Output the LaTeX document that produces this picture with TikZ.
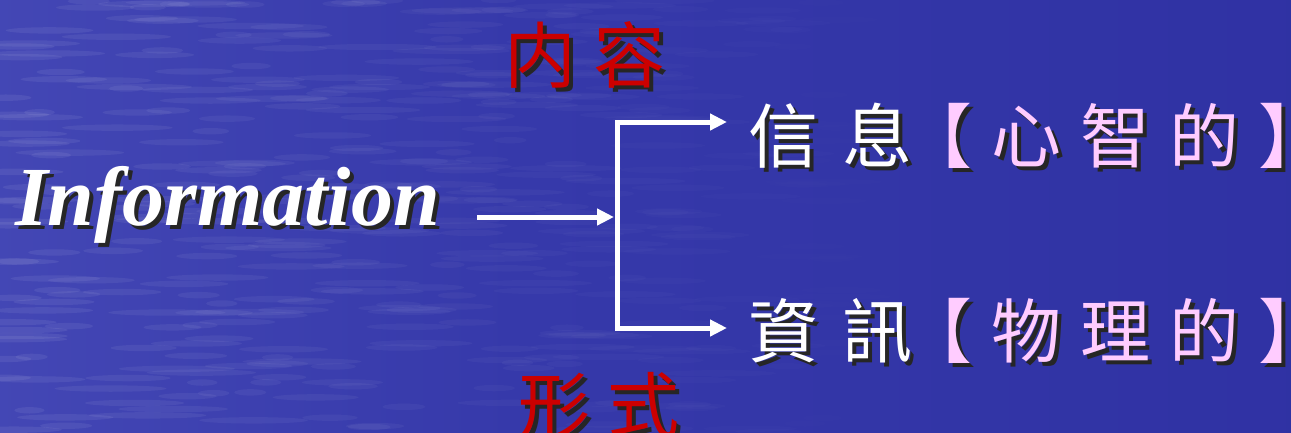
\documentclass[tikz,border=0pt]{standalone}
\usepackage{fontspec}
\setmainfont{Liberation Serif}
\newfontfamily\cjk{Noto Sans CJK TC}
\usetikzlibrary{arrows.meta}
\definecolor{bgL}{RGB}{84,88,194}
\definecolor{bgM}{RGB}{54,57,170}
\definecolor{bgR}{RGB}{42,44,158}
\definecolor{redtxt}{RGB}{204,0,0}
\definecolor{pinktxt}{RGB}{255,204,255}
\pgfdeclarehorizontalshading{bgshade}{100bp}{color(0bp)=(bgL); color(45bp)=(bgM); color(100bp)=(bgR)}
% text with a dark drop shadow
\newcommand{\shtxt}[2]{\makebox[0pt][l]{\hspace*{4pt}\raisebox{-4pt}{\color{black!85}#2}}{\color{#1}#2}}
\newcommand{\cba}[1]{\makebox[94pt]{#1}}
\newcommand{\cbb}[1]{\makebox[89pt]{#1}}
\newcommand{\cbe}[1]{\makebox[40pt][l]{\hspace*{9.5pt}#1}}
\begin{document}
\begin{tikzpicture}[x=1pt,y=-1pt,
  conn/.style={draw=white,line width=5pt,-{Triangle[length=17pt,width=16pt]}},
  latin/.style={inner sep=0pt,anchor=base west,font=\fontsize{84}{90}\selectfont\bfseries\itshape},
  cjkbig/.style={inner sep=0pt,anchor=base west,font=\cjk\fontsize{70}{80}\selectfont},
  cjkred/.style={inner sep=0pt,anchor=base west,font=\cjk\fontsize{72}{80}\selectfont}]
\useasboundingbox (0,0) rectangle (1291,432);
\clip (0,0) rectangle (1291,432);
\shade[shading=bgshade] (0,0) rectangle (1291,432);
\pgfmathsetseed{11}
\foreach \i in {1,...,420}{
  \pgfmathsetmacro\xx{rnd*900}
  \pgfmathsetmacro\yy{rnd*432}
  \pgfmathsetmacro\ww{15+rnd*45}
  \pgfmathsetmacro\oo{0.07*(1-\xx/920)}
  \fill[white,fill opacity=\oo] (\xx,\yy) ellipse ({\ww} and 3.2);
}
% texts
\node[latin] (info) at (15,225) {\shtxt{white}{Information}};
\node[cjkred] (neirong) at (496,82) {\shtxt{redtxt}{\cbb{内}\cbb{容}}};
\node[cjkred] (xingshi) at (510,432) {\shtxt{redtxt}{\cbb{形}\cbb{式}}};
\node[cjkbig] (xinxi) at (736,162) {\shtxt{white}{\cba{信}\cba{息}}};
\node[cjkbig] (xinzhi) at (893,162) {\shtxt{pinktxt}{\cbb{【}\cbb{心}\cbb{智}\cbb{的}\cbe{】}}};
\node[cjkbig] (zixun) at (736,357) {\shtxt{white}{\cba{資}\cba{訊}}};
\node[cjkbig] (wuli) at (893,357) {\shtxt{pinktxt}{\cbb{【}\cbb{物}\cbb{理}\cbb{的}\cbe{】}}};
% connectors
\coordinate (j) at (617,217);
\coordinate (ta) at (727,122);
\coordinate (ba) at (727,328);
\draw[conn,shorten <=37pt,shorten >=3pt] (info.east |- j) -- (j);
\draw[conn] (j) |- (ta);
\draw[conn] (j) |- (ba);
\end{tikzpicture}
\end{document}
